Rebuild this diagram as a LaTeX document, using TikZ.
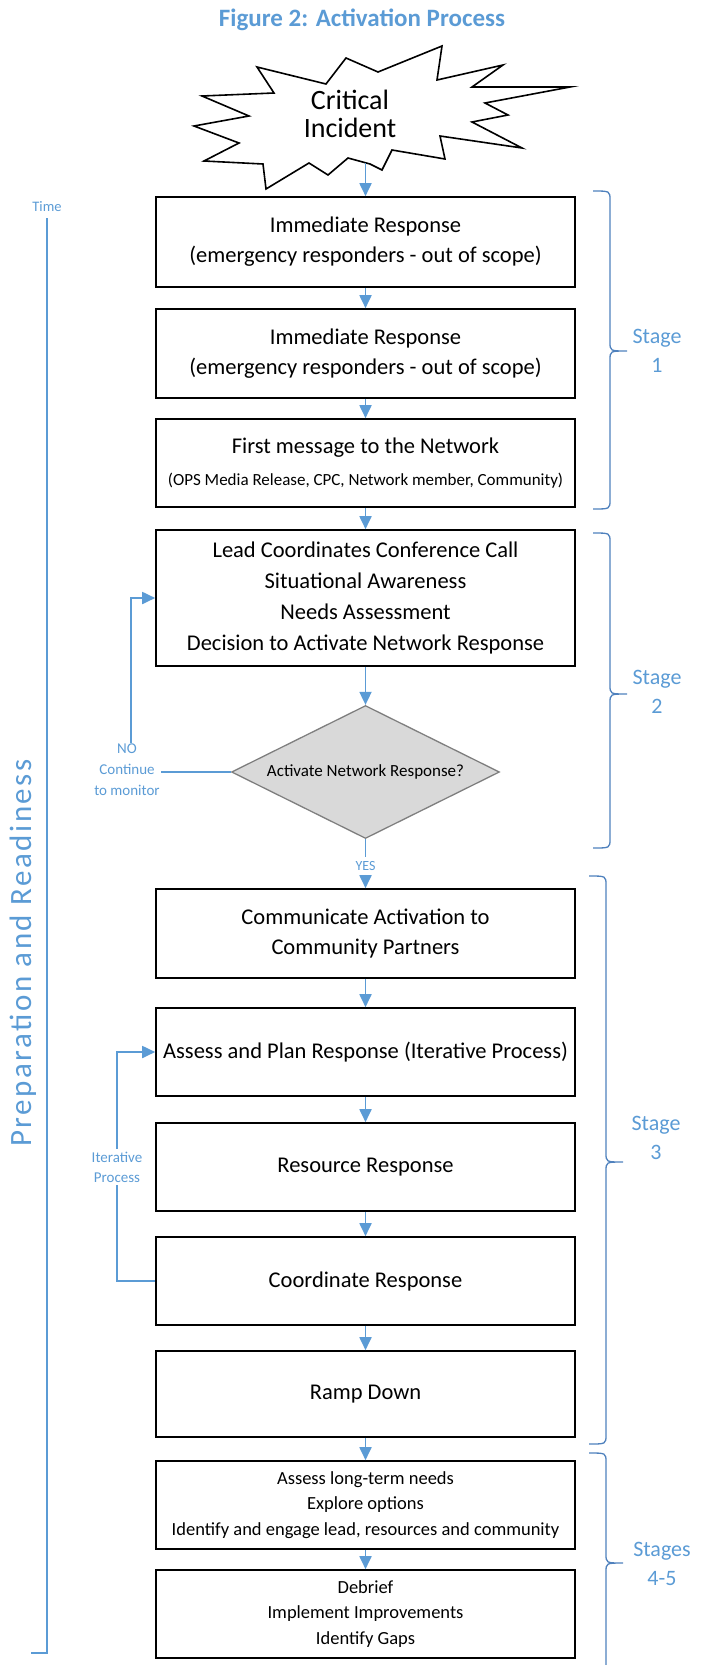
\documentclass[tikz,border=0pt]{standalone}
\usepackage{fontspec}
\setmainfont{Carlito}
\usetikzlibrary{arrows.meta,shapes.geometric}
\definecolor{lblue}{HTML}{5B9BD5}
\definecolor{bblue}{HTML}{4F81BD}
\definecolor{dgray}{HTML}{D9D9D9}
\definecolor{bgray}{HTML}{7F7F7F}
\newcommand\stagebrace[4]{%
  \draw[bracepath] ({#1-17},#2) .. controls ({#1},#2) and ({#1},#2) .. ({#1},{#2+9}) -- ({#1},{#3-9})
    .. controls ({#1},#3) and ({#1},#3) .. ({#1+17},#3)
    .. controls ({#1},#3) and ({#1},#3) .. ({#1},{#3+9}) -- ({#1},{#4-9})
    .. controls ({#1},#4) and ({#1},#4) .. ({#1-17},#4);}
\begin{document}
\begin{tikzpicture}[x=1pt,y=-1pt,
  procbox/.style={draw=black, line width=1.6pt, minimum width=419pt, align=center, inner sep=0pt, fill=white},
  bigtxt/.style={font=\fontsize{22.5}{30}\selectfont},
  smalltxt/.style={font=\fontsize{18.5}{25.5}\selectfont},
  flow/.style={draw=lblue, line width=1.8pt, -{Triangle[width=12pt,length=13pt]}},
  plainline/.style={draw=lblue, line width=1.8pt},
  bluetxt/.style={text=lblue, align=center, inner sep=1pt},
  bracepath/.style={draw=bblue, line width=1.3pt},
]
\useasboundingbox (0,0) rectangle (708,1665);

% title
\node[font=\fontsize{25}{28}\selectfont\bfseries, text=lblue] (title) at (362,20) {Figure 2: Activation Process};

% star
\draw[line width=1.6pt, fill=white, line join=miter, miter limit=25]
  (257,67) -- (326,84) -- (346,58) -- (378,72) -- (442,46) -- (437,80) -- (503,65) -- (472,87)
  -- (570,87) -- (485,103) -- (508,115) -- (472,122) -- (522,148) -- (440,136) -- (445,159)
  -- (392,150) -- (382,170) -- (370,164) -- (348,158) -- (328,175) -- (309,163) -- (266,189)
  -- (263,164) -- (204,161) -- (239,143) -- (194,126) -- (249,116) -- (202,96) -- (274,93) -- cycle;
\node[font=\fontsize{28}{28}\selectfont, align=center] (crit) at (350,114) {Critical\\Incident};
\coordinate (starbot) at (365.5,163);

% boxes
\node[procbox, bigtxt, minimum height=90pt] (b1) at (365.5,242) {Immediate Response\\(emergency responders - out of scope)};
\node[procbox, bigtxt, minimum height=89pt] (b2) at (365.5,353.5) {Immediate Response\\(emergency responders - out of scope)};
\node[procbox, bigtxt, minimum height=88pt] (b3) at (365.5,463) {First message to the Network\\[2pt]{\fontsize{17}{20}\selectfont (OPS Media Release, CPC, Network member, Community)}};
\node[procbox, font=\fontsize{22.5}{31}\selectfont, minimum height=136pt] (b4) at (365.5,598) {Lead Coordinates Conference Call\\Situational Awareness\\Needs Assessment\\Decision to Activate Network Response};
\node[diamond, draw=bgray, fill=dgray, line width=1.3pt, minimum width=268pt, minimum height=133pt, inner sep=0pt, aspect=2, font=\fontsize{17}{20}\selectfont] (dia) at (365.5,772) {Activate Network Response?};
\node[procbox, bigtxt, minimum height=89pt] (b5) at (365.5,933.5) {Communicate Activation to\\Community Partners};
\node[procbox, bigtxt, minimum height=88pt] (b6) at (365.5,1052) {Assess and Plan Response (Iterative Process)};
\node[procbox, bigtxt, minimum height=88pt] (b7) at (365.5,1167) {Resource Response};
\node[procbox, bigtxt, minimum height=88pt] (b8) at (365.5,1281) {Coordinate Response};
\node[procbox, bigtxt, minimum height=86pt] (b9) at (365.5,1394) {Ramp Down};
\node[procbox, smalltxt, minimum height=88pt] (b10) at (365.5,1505) {Assess long-term needs\\Explore options\\Identify and engage lead, resources and community};
\node[procbox, smalltxt, minimum height=88pt] (b11) at (365.5,1614) {Debrief\\Implement Improvements\\Identify Gaps};

% connectors
\draw[flow] (starbot) -- (b1.north);
\draw[flow] (b1.south) -- (b2.north);
\draw[flow] (b2.south) -- (b3.north);
\draw[flow] (b3.south) -- (b4.north);
\draw[flow] (b4.south) -- (dia.north);
\node[bluetxt, font=\fontsize{14}{16}\selectfont, inner sep=4pt] (yes) at (365.5,866) {YES};
\draw[plainline] (dia.south) -- (yes.north);
\draw[flow] (yes.south) -- (b5.north);
\draw[flow] (b5.south) -- (b6.north);
\draw[flow] (b6.south) -- (b7.north);
\draw[flow] (b7.south) -- (b8.north);
\draw[flow] (b8.south) -- (b9.north);
\draw[flow] (b9.south) -- (b10.north);
\draw[flow] (b10.south) -- (b11.north);

% NO loop
\node[bluetxt, font=\fontsize{15}{21}\selectfont] (notxt) at (127,770) {NO\\Continue\\to monitor};
\draw[plainline] (dia.west) -- (dia.west -| notxt.east);
\draw[flow] ([xshift=4pt]notxt.north) |- (b4.west);

% iterative loop
\node[bluetxt, font=\fontsize{15}{20}\selectfont, inner sep=3pt] (ittxt) at (117,1167) {Iterative\\Process};
\draw[flow] (ittxt.north) |- (b6.west);
\draw[plainline] (ittxt.south) |- (b8.west);

% braces
\stagebrace{610}{191}{351}{509}
\stagebrace{610}{533}{694}{848}
\stagebrace{606}{876}{1162}{1444}
\draw[bracepath] (589,1453) .. controls (606,1453) and (606,1453) .. (606,1462) -- (606,1554)
    .. controls (606,1563) and (606,1563) .. (623,1563)
    .. controls (606,1563) and (606,1563) .. (606,1572) -- (606,1670);
\node[bluetxt, font=\fontsize{22}{29}\selectfont] (s1) at (657,351) {Stage\\1};
\node[bluetxt, font=\fontsize{22}{29}\selectfont] (s2) at (657,692) {Stage\\2};
\node[bluetxt, font=\fontsize{22}{29}\selectfont] (s3) at (656,1138) {Stage\\3};
\node[bluetxt, font=\fontsize{22}{29}\selectfont] (s4) at (662,1564) {Stages\\4-5};

% time line
\node[bluetxt, font=\fontsize{14.5}{16}\selectfont] (time) at (47,207) {Time};
\coordinate (tl0) at (47,218);
\coordinate (tl1) at (31,1653);
\draw[plainline, line width=2pt] (tl0) |- (tl1);
\node[bluetxt, rotate=90, font=\fontsize{31}{33}\selectfont\addfontfeature{LetterSpace=8}] (prep) at (23,953) {Preparation and Readiness};
\end{tikzpicture}
\end{document}
